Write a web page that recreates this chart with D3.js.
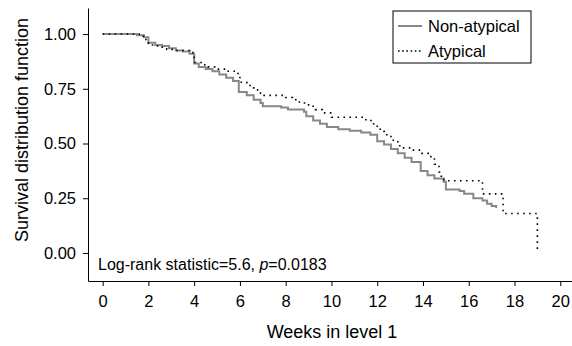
<!DOCTYPE html>
<html>
<head>
<meta charset="utf-8">
<script src="https://cdn.jsdelivr.net/npm/d3@7"></script>
<style>
  body { margin: 0; background: #fff; }
  svg { display: block; font-family: "Liberation Sans", Arial, sans-serif; }
  .axis path, .axis line { stroke: #000; stroke-width: 1; }
  .axis text { font-size: 16.5px; fill: #000; }
</style>
</head>
<body>
<div id="km_chart"></div>
<script>
// data: [week, survival] where the step happens
var seriesNames = ["Non-atypical", "Atypical"];

var nonAtypical = [
    [0, 1.0], [1.5, 0.995], [1.8, 0.985], [2.0, 0.96], [2.3, 0.95], [2.6, 0.945],
    [2.9, 0.935], [3.2, 0.925], [3.5, 0.92], [3.8, 0.91], [4.0, 0.865], [4.2, 0.85],
    [4.5, 0.84], [4.8, 0.83], [5.1, 0.815], [5.4, 0.80], [5.7, 0.785], [5.95, 0.735],
    [6.3, 0.72], [6.6, 0.70], [6.9, 0.685], [7.0, 0.67], [7.8, 0.664], [8.1, 0.655],
    [8.8, 0.645], [8.9, 0.625], [9.2, 0.605], [9.5, 0.59], [9.8, 0.575], [10.3, 0.565],
    [10.8, 0.558], [11.3, 0.55], [11.7, 0.54], [12.0, 0.51], [12.3, 0.495], [12.6, 0.475],
    [12.9, 0.455], [13.2, 0.435], [13.5, 0.415], [13.9, 0.375], [14.2, 0.355], [14.5, 0.34],
    [14.9, 0.325], [15.0, 0.29], [15.6, 0.283], [15.8, 0.27], [16.2, 0.25], [16.6, 0.24],
    [16.8, 0.225], [17.0, 0.215], [17.2, 0.205]
];

var atypical = [
    [0, 1.0], [1.6, 0.99], [1.8, 0.975], [2.0, 0.95], [2.4, 0.94], [2.8, 0.93],
    [3.2, 0.925], [3.8, 0.915], [4.0, 0.87], [4.3, 0.86], [4.6, 0.85], [5.0, 0.84],
    [5.4, 0.83], [5.8, 0.82], [6.0, 0.78], [6.3, 0.765], [6.6, 0.745], [6.9, 0.73],
    [7.0, 0.72], [8.0, 0.71], [8.3, 0.70], [8.6, 0.685], [9.0, 0.67], [9.3, 0.655],
    [9.6, 0.64], [10.0, 0.62], [11.5, 0.605], [11.8, 0.59], [12.0, 0.565], [12.3, 0.54],
    [12.6, 0.515], [12.9, 0.49], [13.1, 0.48], [13.5, 0.47], [13.9, 0.455], [14.3, 0.44],
    [14.5, 0.405], [14.7, 0.37], [14.8, 0.335], [15.0, 0.33], [16.6, 0.27], [17.5, 0.18],
    [19.0, 0.018]
];

var xTicks = [0, 2, 4, 6, 8, 10, 12, 14, 16, 18, 20];
var yTicks = [0, 0.25, 0.5, 0.75, 1.0];

var width_km = 572,
    height_km = 346;

var svg_km = d3.select("#km_chart").append("svg")
    .attr("width", width_km)
    .attr("height", height_km);

// axis frame runs a little past the data range on both axes
var x_km = d3.scaleLinear()
    .domain([-0.64, 20.6])
    .range([88, 574]);

var y_km = d3.scaleLinear()
    .domain([-0.128, 1.119])
    .range([281, 8]);

var xAxis_km = d3.axisBottom(x_km)
    .tickValues(xTicks)
    .tickFormat(d3.format("d"))
    .tickSizeInner(5)
    .tickSizeOuter(0)
    .tickPadding(9);

var yAxis_km = d3.axisLeft(y_km)
    .tickValues(yTicks)
    .tickFormat(d3.format(".2f"))
    .tickSizeInner(5)
    .tickSizeOuter(0)
    .tickPadding(7);

svg_km.append("g")
    .attr("class", "x axis")
    .attr("transform", "translate(0," + y_km.range()[0] + ")")
    .call(xAxis_km);

svg_km.append("g")
    .attr("class", "y axis")
    .attr("transform", "translate(" + x_km.range()[0] + ",0)")
    .call(yAxis_km);

svg_km.append("text")
    .attr("x", 332)
    .attr("y", 338)
    .attr("text-anchor", "middle")
    .style("font-size", "18px")
    .text("Weeks in level 1");

svg_km.append("text")
    .attr("transform", "translate(28,130) rotate(-90)")
    .attr("text-anchor", "middle")
    .style("font-size", "18px")
    .text("Survival distribution function");

var line_km = d3.line()
    .x(function (d) { return x_km(d[0]); })
    .y(function (d) { return y_km(d[1]); })
    .curve(d3.curveStepAfter);

svg_km.append("path")
    .datum(nonAtypical)
    .attr("fill", "none")
    .attr("stroke", "#888")
    .attr("stroke-width", 2)
    .attr("d", line_km);

svg_km.append("path")
    .datum(atypical)
    .attr("fill", "none")
    .attr("stroke", "#000")
    .attr("stroke-width", 1.6)
    .attr("stroke-dasharray", "1.6,4.4")
    .attr("d", line_km);

// log-rank note
var note = svg_km.append("text")
    .attr("x", 98)
    .attr("y", 270)
    .style("font-size", "16px");
note.append("tspan").text("Log-rank statistic=5.6, ");
note.append("tspan").style("font-style", "italic").text("p");
note.append("tspan").text("=0.0183");

// legend
var legend = svg_km.append("g")
    .attr("transform", "translate(393,11)");

legend.append("rect")
    .attr("width", 138)
    .attr("height", 52)
    .attr("fill", "#fff")
    .attr("stroke", "#000")
    .attr("stroke-width", 1);

var legendStyles = [
    { stroke: "#888", width: 2, dash: null },
    { stroke: "#000", width: 1.6, dash: "1.6,2.6" }
];

seriesNames.forEach(function (name, i) {
    var yy = 15 + i * 25;
    legend.append("line")
        .attr("x1", 5).attr("x2", 29)
        .attr("y1", yy).attr("y2", yy)
        .attr("stroke", legendStyles[i].stroke)
        .attr("stroke-width", legendStyles[i].width)
        .attr("stroke-dasharray", legendStyles[i].dash);
    legend.append("text")
        .attr("x", 35)
        .attr("y", yy)
        .attr("dy", "0.35em")
        .style("font-size", "16.5px")
        .text(name);
});
</script>
</body>
</html>
